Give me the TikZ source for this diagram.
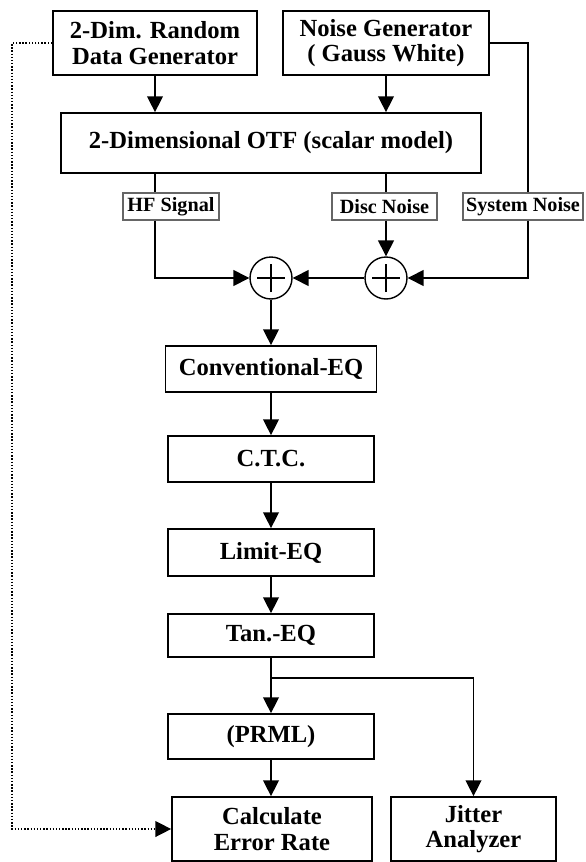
\documentclass[tikz,border=0pt]{standalone}
\usepackage{fontspec}
\setmainfont{Liberation Serif}
\usetikzlibrary{arrows.meta,calc}
\tikzset{
  blk/.style={draw,line width=1pt,fill=white,align=center,inner sep=0pt,font=\fontsize{14}{14.5}\selectfont\bfseries},
  tag/.style={draw=black!60,line width=.7pt,fill=white,inner sep=0pt,minimum height=.54cm,font=\fontsize{11.5}{12}\selectfont\bfseries},
  summer/.style={draw,circle,line width=.8pt,minimum size=.84cm,inner sep=0pt,
    path picture={\draw[line width=.9pt] ($(path picture bounding box.center)+(-.28cm,0cm)$)--($(path picture bounding box.center)+(.28cm,0cm)$)
      ($(path picture bounding box.center)+(0cm,-.28cm)$)--($(path picture bounding box.center)+(0cm,.28cm)$);}},
  flow/.style={line width=.8pt,-{Triangle[length=9pt,width=9pt]}}
}

\begin{document}
\begin{tikzpicture}[x=0.02cm,y=-0.02cm]
\useasboundingbox (0,0) rectangle (585,862);
% sources
\node[blk,minimum width=4.08cm,minimum height=1.28cm] (rand) at (155,43) {2-Dim. Random\\Data Generator};
\node[blk,minimum width=4.12cm,minimum height=1.28cm] (noise) at (386,43) {Noise Generator\\( Gauss White)};
\node[blk,minimum width=8.4cm,minimum height=1.2cm] (otf) at (271,143) {2-Dimensional OTF (scalar model)};
% signal labels and adders
\node[tag,minimum width=1.92cm] (hf) at (171,206.5) {HF Signal};
\node[tag,minimum width=2.1cm] (disc) at (384.5,206.5) {Disc Noise};
\node[tag,minimum width=2.4cm] (sys) at (523,206.5) {System Noise};
\node[summer] (sum1) at (271,278) {};
\node[summer] (sum2) at (386,278) {};
\coordinate (sysx) at (528,43);
% processing chain
\node[blk,minimum width=4.22cm,minimum height=.92cm] (conv) at (271,369) {Conventional-EQ};
\node[blk,minimum width=4.12cm,minimum height=.92cm] (ctc) at (271,459) {C.T.C.};
\node[blk,minimum width=4.12cm,minimum height=.94cm] (limit) at (271,552.5) {Limit-EQ};
\node[blk,minimum width=4.12cm,minimum height=.86cm] (tan) at (271,635.5) {Tan.-EQ};
\node[blk,minimum width=4.12cm,minimum height=.9cm] (prml) at (271,736.5) {(PRML)};
\node[blk,minimum width=4cm,minimum height=1.28cm] (calc) at (272,829) {Calculate\\Error Rate};
\node[blk,minimum width=3.3cm,minimum height=1.28cm] (jit) at (473.5,829) {Jitter\\Analyzer};
\coordinate (fork) at (271,678);

\draw[flow] (rand.south) -- (rand.south |- otf.north);
\draw[flow] (noise.south) -- (noise.south |- otf.north);
\draw[line width=.8pt] (rand.south |- otf.south) -- (rand.south |- hf.north);
\draw[line width=.8pt] (noise.south |- otf.south) -- (noise.south |- disc.north);
\draw[line width=.8pt] (noise.east) -- (sysx) -- (sysx |- sys.north);
\draw[flow] (rand.south |- hf.south) |- (sum1.west);
\draw[flow] (noise.south |- disc.south) -- (sum2.north);
\draw[flow] (sysx |- sys.south) |- (sum2.east);
\draw[flow] (sum2.west) -- (sum1.east);
\foreach \a/\b in {sum1/conv,conv/ctc,ctc/limit,limit/tan}{\draw[flow] (\a.south) -- (\b.north);}
\draw[line width=.8pt] (tan.south) -- (fork);
\draw[flow] (fork) -- (prml.north);
\draw[flow] (fork) -| (jit.north);
\draw[flow] (prml.south) -- (prml.south |- calc.north);
\draw[flow,densely dotted] (rand.west) -- ++(-40,0) |- (calc.west);
\end{tikzpicture}
\end{document}
